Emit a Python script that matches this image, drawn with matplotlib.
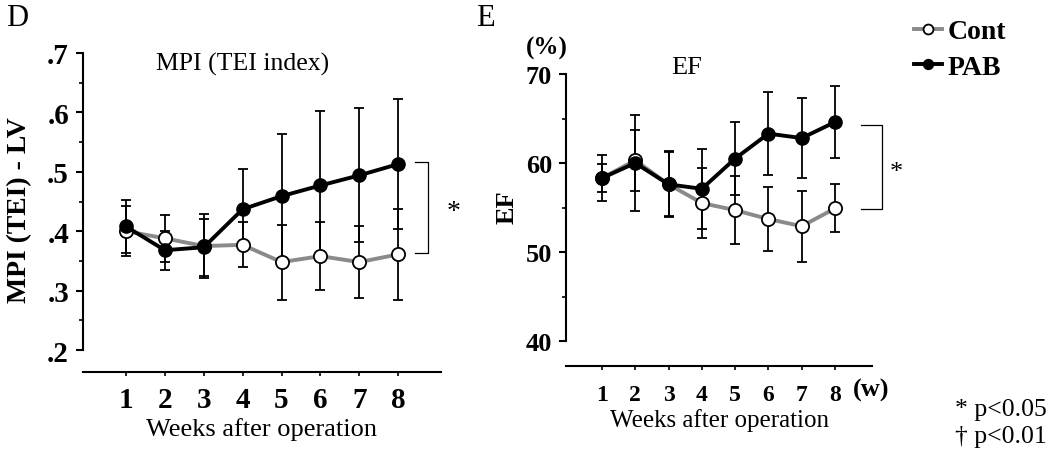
import matplotlib
matplotlib.use('Agg')
import matplotlib.pyplot as plt
from matplotlib.ticker import FuncFormatter, MultipleLocator

plt.rcParams['font.family'] = ['Liberation Serif', 'DejaVu Serif']

weeks = [1, 2, 3, 4, 5, 6, 7, 8]

# panel D: MPI (TEI index)
mpi_cont = [0.400, 0.388, 0.375, 0.377, 0.348, 0.358, 0.348, 0.361]
mpi_cont_err = [0.042, 0.040, 0.054, 0.038, 0.063, 0.057, 0.061, 0.077]
mpi_pab = [0.408, 0.368, 0.373, 0.437, 0.459, 0.477, 0.494, 0.513]
mpi_pab_err = [0.044, 0.033, 0.048, 0.067, 0.104, 0.125, 0.113, 0.109]

# panel E: EF (%)
ef_cont = [58.3, 60.3, 57.6, 55.5, 54.7, 53.7, 52.9, 54.9]
ef_cont_err = [1.6, 3.4, 3.7, 3.9, 3.8, 3.6, 4.0, 2.7]
ef_pab = [58.3, 60.0, 57.6, 57.1, 60.5, 63.3, 62.8, 64.6]
ef_pab_err = [2.6, 5.4, 3.6, 4.5, 4.1, 4.7, 4.5, 4.0]

GRAY = '#8a8a8a'

fig = plt.figure(figsize=(10.5, 4.6), dpi=100)
ax1 = fig.add_axes([83 / 1050, 1 - 351 / 460, 358 / 1050, 297 / 460])
ax2 = fig.add_axes([566 / 1050, 1 - 342 / 460, 306 / 1050, 267 / 460])


def draw_series(ax, cont, cont_err, pab, pab_err):
    ax.errorbar(weeks, cont, yerr=cont_err, fmt='none', ecolor='black',
                elinewidth=1.3, capsize=3.8, capthick=1.3, zorder=2)
    ax.errorbar(weeks, pab, yerr=pab_err, fmt='none', ecolor='black',
                elinewidth=1.3, capsize=3.8, capthick=1.3, zorder=2)
    ax.plot(weeks, cont, color=GRAY, lw=2.8, marker='o', ms=9.5,
            mfc='white', mec='black', mew=1.3, zorder=3, label='Cont')
    ax.plot(weeks, pab, color='black', lw=2.8, marker='o', ms=9.5,
            mfc='black', mec='black', zorder=4, label='PAB')


def style_axes(ax, offset_pt, xfs, yfs, xpad, ypad):
    for s in ['top', 'right']:
        ax.spines[s].set_visible(False)
    ax.spines['left'].set_linewidth(1.5)
    ax.spines['bottom'].set_linewidth(1.5)
    ax.spines['bottom'].set_position(('outward', offset_pt))
    ax.set_xticks(weeks)
    ax.tick_params(axis='x', direction='out', length=3, width=1.2,
                   labelsize=xfs, pad=xpad)
    ax.tick_params(axis='y', which='major', direction='out', length=5,
                   width=1.5, labelsize=yfs, pad=ypad)
    ax.tick_params(axis='y', which='minor', direction='out', length=3,
                   width=1.2)
    for lab in ax.get_xticklabels() + ax.get_yticklabels():
        lab.set_fontweight('bold')


# ---- panel D ----
draw_series(ax1, mpi_cont, mpi_cont_err, mpi_pab, mpi_pab_err)
ax1.set_xlim(-0.105, 9.1)
ax1.set_ylim(0.2, 0.7)
ax1.yaxis.set_major_locator(MultipleLocator(0.1))
ax1.yaxis.set_minor_locator(MultipleLocator(0.05))
ax1.yaxis.set_major_formatter(FuncFormatter(lambda v, p: ('%.1f' % v).lstrip('0')))
style_axes(ax1, 16, 21, 21, 7, 5)
ax1.set_xlabel('Weeks after operation', fontsize=19, labelpad=3)
ax1.set_ylabel('MPI (TEI) - LV', fontsize=20, fontweight='bold')
ax1.yaxis.set_label_coords(-0.142, 0.475)
ax1.text(4.0, 0.683, 'MPI (TEI index)', fontsize=18.5, ha='center', va='center')
ax1.plot([8.44, 8.77, 8.77, 8.44], [0.516, 0.516, 0.363, 0.363],
         color='black', lw=0.9, clip_on=False)
ax1.text(9.43, 0.433, '*', fontsize=20, ha='center', va='center', clip_on=False)

# ---- panel E ----
draw_series(ax2, ef_cont, ef_cont_err, ef_pab, ef_pab_err)
ax2.set_xlim(-0.08, 9.11)
ax2.set_ylim(40, 70)
ax2.yaxis.set_major_locator(MultipleLocator(10))
ax2.yaxis.set_minor_locator(MultipleLocator(5))
style_axes(ax2, 18, 17, 19, 10, 5)
ax2.set_xlabel('Weeks after operation', fontsize=18, labelpad=2)
ax2.set_ylabel('EF', fontsize=19, fontweight='bold')
ax2.yaxis.set_label_coords(-0.155, 0.506)
ax2.text(3.55, 70.8, 'EF', fontsize=19, ha='center', va='center', clip_on=False)
ax2.plot([8.78, 9.41, 9.41, 8.78], [64.3, 64.3, 54.8, 54.8],
         color='black', lw=0.9, clip_on=False)
ax2.text(9.85, 59.0, '*', fontsize=19, ha='center', va='center', clip_on=False)

# figure texts
fig.text(6 / 1050, 1 - 18 / 460, 'D', fontsize=22, ha='left', va='center')
fig.text(476 / 1050, 1 - 18 / 460, 'E', fontsize=22, ha='left', va='center')
fig.text(547 / 1050, 1 - 48 / 460, '(%)', fontsize=18, fontweight='bold',
         ha='center', va='center')
fig.text(853 / 1050, 1 - 390 / 460, '(w)', fontsize=19, fontweight='bold',
         ha='left', va='center')
fig.text(955 / 1050, 1 - 410 / 460, '* p<0.05', fontsize=18.5, ha='left', va='center')
fig.text(955 / 1050, 1 - 437 / 460, '\u2020 p<0.01', fontsize=18.5, ha='left', va='center')

leg = ax2.legend(loc='upper left', bbox_to_anchor=(914 / 1050, 1 - 20 / 460),
                 bbox_transform=fig.transFigure, frameon=False, fontsize=20,
                 handlelength=1.0, handletextpad=0.2, labelspacing=0.35,
                 markerscale=0.75, borderpad=0, borderaxespad=0)
for t in leg.get_texts():
    t.set_fontweight('bold')

fig.savefig('out.png', dpi=100)
